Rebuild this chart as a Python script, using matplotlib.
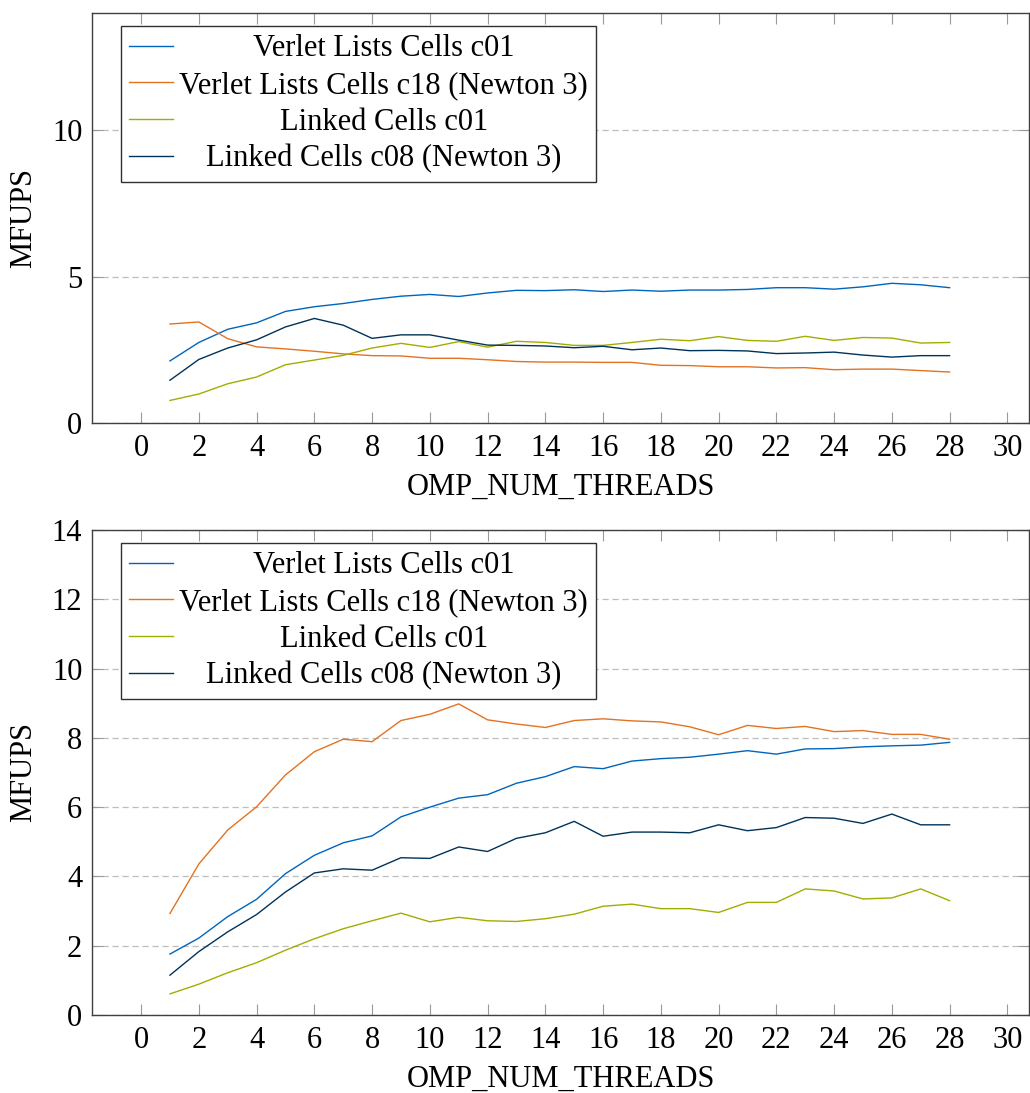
import matplotlib
matplotlib.use('Agg')
import matplotlib.pyplot as plt
import numpy as np

plt.rcParams['font.family'] = ['Liberation Serif', 'DejaVu Serif']
plt.rcParams['font.size'] = 22

threads = list(range(1, 29))

labels = ['Verlet Lists Cells c01', 'Verlet Lists Cells c18 (Newton 3)',
          'Linked Cells c01', 'Linked Cells c08 (Newton 3)']
colors = ['#0065BD', '#E37222', '#A2AD00', '#003359']

# oberes Diagramm
top_vl_c01 = [2.12, 2.75, 3.20, 3.42, 3.81, 3.97, 4.08, 4.22, 4.33, 4.39, 4.32, 4.44, 4.53, 4.52,
              4.55, 4.49, 4.54, 4.50, 4.54, 4.54, 4.56, 4.62, 4.62, 4.57, 4.65, 4.77, 4.72, 4.62]
top_vl_c18 = [3.38, 3.45, 2.88, 2.60, 2.53, 2.45, 2.36, 2.30, 2.29, 2.21, 2.21, 2.16, 2.10, 2.08,
              2.08, 2.07, 2.07, 1.97, 1.96, 1.92, 1.92, 1.88, 1.89, 1.82, 1.84, 1.84, 1.79, 1.74]
top_lc_c01 = [0.77, 0.99, 1.34, 1.57, 1.99, 2.15, 2.31, 2.56, 2.72, 2.58, 2.78, 2.59, 2.79, 2.75,
              2.65, 2.65, 2.75, 2.86, 2.81, 2.95, 2.82, 2.79, 2.96, 2.82, 2.92, 2.90, 2.73, 2.75]
top_lc_c08 = [1.46, 2.17, 2.56, 2.84, 3.28, 3.57, 3.34, 2.89, 3.01, 3.01, 2.83, 2.66, 2.65, 2.63,
              2.57, 2.62, 2.50, 2.56, 2.47, 2.48, 2.46, 2.37, 2.39, 2.42, 2.32, 2.25, 2.30, 2.30]

# unteres Diagramm
bot_vl_c01 = [1.76, 2.22, 2.84, 3.34, 4.08, 4.61, 4.97, 5.17, 5.72, 6.00, 6.26, 6.36, 6.69, 6.88,
              7.17, 7.11, 7.33, 7.40, 7.44, 7.53, 7.63, 7.53, 7.68, 7.69, 7.74, 7.77, 7.79, 7.87]
bot_vl_c18 = [2.93, 4.36, 5.34, 6.01, 6.93, 7.60, 7.96, 7.89, 8.50, 8.68, 8.98, 8.52, 8.40, 8.30,
              8.50, 8.55, 8.49, 8.46, 8.32, 8.09, 8.36, 8.27, 8.33, 8.18, 8.21, 8.10, 8.10, 7.96]
bot_lc_c01 = [0.61, 0.89, 1.22, 1.51, 1.87, 2.20, 2.49, 2.72, 2.94, 2.69, 2.82, 2.72, 2.70, 2.78,
              2.91, 3.14, 3.20, 3.07, 3.07, 2.96, 3.25, 3.25, 3.64, 3.58, 3.35, 3.38, 3.64, 3.30]
bot_lc_c08 = [1.15, 1.83, 2.40, 2.90, 3.55, 4.10, 4.22, 4.18, 4.54, 4.52, 4.85, 4.72, 5.10, 5.26,
              5.59, 5.16, 5.28, 5.28, 5.26, 5.49, 5.32, 5.41, 5.70, 5.68, 5.53, 5.80, 5.49, 5.49]

W, H = 1030, 1093
fig = plt.figure(figsize=(W / 100, H / 100), dpi=100)
ax1 = fig.add_axes([92 / W, 1 - 423 / H, 937 / W, 410 / H])
ax2 = fig.add_axes([92 / W, 1 - 1015 / H, 937 / W, 485 / H])


def style(ax, series, yticks, hpx):
    for ys, lab, c in zip(series, labels, colors):
        ax.plot(threads, ys, color=c, lw=1.0, label=lab)
    ax.set_xlim(-1.7, 30.75)
    ax.set_ylim(0, 14)
    ax.set_xticks(range(0, 31, 2))
    ax.set_yticks(yticks)
    ax.yaxis.grid(True, color='#bdbdbd', linestyle=(0, (5, 3)), lw=0.9)
    ax.set_axisbelow(True)
    ax.tick_params(direction='in', length=8, width=0.8, color='#9a9a9a',
                   top=True, right=True, labelsize=22)
    ax.tick_params(axis='x', pad=8)
    ax.tick_params(axis='y', pad=7)
    for s in ax.spines.values():
        s.set_color('#404040')
        s.set_linewidth(1.0)
    ax.set_xlabel('OMP_NUM_THREADS', fontsize=22, labelpad=7)
    ax.set_ylabel('MFUPS', fontsize=22, labelpad=10)
    leg = ax.legend(loc='upper left', bbox_to_anchor=(29 / 937, 1 - 13 / hpx),
                    borderaxespad=0, frameon=True, fancybox=False, edgecolor='#303030',
                    framealpha=1, handlelength=1.44, handletextpad=0.2,
                    labelspacing=0.25, borderpad=0.27, fontsize=22)
    leg.get_frame().set_linewidth(1.0)
    return leg


legs = [style(ax1, [top_vl_c01, top_vl_c18, top_lc_c01, top_lc_c08], [0, 5, 10], 410),
        style(ax2, [bot_vl_c01, bot_vl_c18, bot_lc_c01, bot_lc_c08], range(0, 15, 2), 485)]

# Legendentext zentrieren
fig.canvas.draw()
r = fig.canvas.get_renderer()
for leg in legs:
    texts = leg.get_texts()
    widths = [t.get_window_extent(r).width for t in texts]
    wmax = max(widths)
    for t, w in zip(texts, widths):
        t.set_position(((wmax - w) / 2, 0))

fig.savefig('out.png', dpi=100)
